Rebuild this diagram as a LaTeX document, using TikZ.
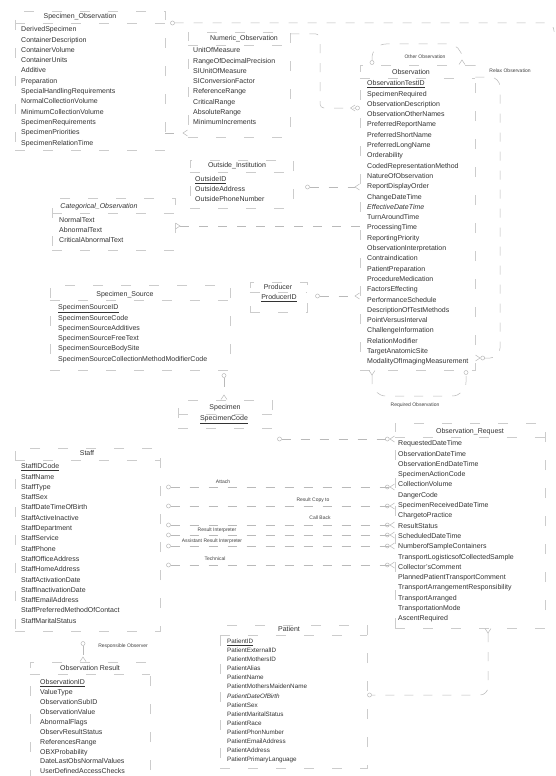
\documentclass[tikz,border=0pt]{standalone}
\usepackage{fontspec}
\setmainfont{Liberation Sans}
\usetikzlibrary{arrows.meta}

\begin{document}
\begin{tikzpicture}[
    x=1pt, y=-1pt,
    title/.style={font=\fontsize{7}{10.3}\selectfont, text=black!80, inner sep=0pt},
    attrs/.style={title, align=left, anchor=north west},
    pattrs/.style={attrs, font=\fontsize{6.3}{9.1}\selectfont},
    box/.style={draw=gray!40, dash pattern=on 10pt off 18pt, line width=0.5pt, inner sep=0pt},
    rel/.style={draw=gray!55, dash pattern=on 9pt off 10pt, line width=0.5pt},
    relname/.style={font=\fontsize{5}{6}\selectfont, text=black!75, inner sep=0pt},
    crow/.tip={Straight Barb[reversed, length=4.5pt, width=6pt]},
    ring/.tip={Circle[open, length=4.5pt, width=4.5pt]}
]
    \path [use as bounding box, fill=white] (0,0) rectangle (556,776);

    % entity boxes
    \node (specobs) [box, minimum width=150, minimum height=139] at (90,80.5) {};
    \node (num) [box, minimum width=102, minimum height=105] at (239,84.5) {};
    \node (obs) [box, minimum width=115, minimum height=305] at (417.5,217.5) {};
    \node (out) [box, minimum width=103, minimum height=48] at (241.5,184) {};
    \node (cat) [box, minimum width=123, minimum height=52] at (113.5,224) {};
    \node (ssrc) [box, minimum width=180, minimum height=85] at (140,327.5) {};
    \node (prod) [box, minimum width=57, minimum height=30] at (278.5,297) {};
    \node (spec) [box, minimum width=94, minimum height=28] at (225,414) {};
    \node (staff) [box, minimum width=145, minimum height=183] at (87.5,539.5) {};
    \node (oreq) [box, minimum width=150, minimum height=205] at (470,525.5) {};
    \node (ores) [box, minimum width=120, minimum height=128] at (90,726) {};
    \node (pat) [box, minimum width=147, minimum height=143] at (293.5,696.5) {};

    % title dividers
    \draw [box] (specobs.west |- 0,23) -- (specobs.east |- 0,23);
    \draw [box] (num.west |- 0,45) -- (num.east |- 0,45);
    \draw [box] (obs.west |- 0,78) -- (obs.east |- 0,78);
    \draw [box] (out.west |- 0,172) -- (out.east |- 0,172);
    \draw [box] (cat.west |- 0,213) -- (cat.east |- 0,213);
    \draw [box] (ssrc.west |- 0,300) -- (ssrc.east |- 0,300);
    \draw [box] (prod.west |- 0,292) -- (prod.east |- 0,292);
    \draw [box] (spec.west |- 0,414) -- (spec.east |- 0,414);
    \draw [box] (staff.west |- 0,460) -- (staff.east |- 0,460);
    \draw [box] (oreq.west |- 0,437) -- (oreq.east |- 0,437);
    \draw [box] (ores.west |- 0,674) -- (ores.east |- 0,674);
    \draw [box] (pat.west |- 0,635) -- (pat.east |- 0,635);

    % titles
    \node (specobsname) [title] at (80,17) {Specimen\_Observation};
    \node (numname) [title] at (244,39) {Numeric\_Observation};
    \node (obsname) [title] at (411,72) {Observation};
    \node (outname) [title] at (237,166) {Outside\_Institution};
    \node (catname) [title] at (99,207) {\itshape Categorical\_Observation};
    \node (ssrcname) [title] at (125,295) {Specimen\_Source};
    \node (prodname) [title] at (278,287) {Producer};
    \node (specname) [title] at (225,408) {Specimen};
    \node (staffname) [title] at (87,453) {Staff};
    \node (oreqname) [title] at (470,432) {Observation\_Request};
    \node (oresname) [title] at (90,668) {Observation Result};
    \node (patname) [title] at (289,629) {Patient};

    % attributes
    \node (specobsattr) [attrs] at (21,26.5) {DerivedSpecimen\\ContainerDescription\\ContainerVolume\\ContainerUnits\\Additive\\Preparation\\SpecialHandlingRequirements\\NormalCollectionVolume\\MinimumCollectionVolume\\SpecimenRequirements\\SpecimenPriorities\\SpecimenRelationTime};
    \node (numattr) [attrs] at (193,47.5) {UnitOfMeasure\\RangeOfDecimalPrecision\\SIUnitOfMeasure\\SIConversionFactor\\ReferenceRange\\CriticalRange\\AbsoluteRange\\MinimumIncrements};
    \node (obsattr) [attrs] at (367,80.5) {\underline{ObservationTestID}\\SpecimenRequired\\ObservationDescription\\ObservationOtherNames\\PreferredReportName\\PreferredShortName\\PreferredLongName\\Orderability\\CodedRepresentationMethod\\NatureOfObservation\\ReportDisplayOrder\\ChangeDateTime\\{\itshape EffectiveDateTime}\\TurnAroundTime\\ProcessingTime\\ReportingPriority\\ObservationInterpretation\\Contraindication\\PatientPreparation\\ProcedureMedication\\FactorsEffecting\\PerformanceSchedule\\DescriptionOfTestMethods\\PointVersusInterval\\ChallengeInformation\\RelationModifier\\TargetAnatomicSite\\ModalityOfImagingMeasurement};
    \node (outattr) [attrs, font=\fontsize{7}{10}\selectfont] at (195,176.5) {\underline{OutsideID}\\OutsideAddress\\OutsidePhoneNumber};
    \node (catattr) [attrs, font=\fontsize{7}{10}\selectfont] at (59,217.5) {NormalText\\AbnormalText\\CriticalAbnormalText};
    \node (ssrcattr) [attrs] at (58,304.5) {\underline{SpecimenSourceID}\\SpecimenSourceCode\\SpecimenSourceAdditives\\SpecimenSourceFreeText\\SpecimenSourceBodySite\\SpecimenSourceCollectionMethodModifierCode};
    \node (prodkey) [title] at (279,298) {\underline{ProducerID}};
    \node (speckey) [title] at (224,420) {\underline{SpecimenCode}};
    \node (staffattr) [attrs] at (21,463.5) {\underline{StaffIDCode}\\StaffName\\StaffType\\StaffSex\\StaffDateTimeOfBirth\\StaffActiveInactive\\StaffDepartment\\StaffService\\StaffPhone\\StaffOfficeAddress\\StaffHomeAddress\\StaffActivationDate\\StaffInactivationDate\\StaffEmailAddress\\StaffPreferredMethodOfContact\\StaffMaritalStatus};
    \node (oreqattr) [attrs] at (398,440.5) {RequestedDateTime\\ObservationDateTime\\ObservationEndDateTime\\SpecimenActionCode\\CollectionVolume\\DangerCode\\SpecimenReceivedDateTime\\ChargetoPractice\\ResultStatus\\ScheduledDateTime\\NumberofSampleContainers\\TransportLogisticsofCollectedSample\\Collector'sComment\\PlannedPatientTransportComment\\TransportArrangementResponsibility\\TransportArranged\\TransportationMode\\AscentRequired};
    \node (oresattr) [attrs, font=\fontsize{7}{9.9}\selectfont] at (40,679.5) {\underline{ObservationID}\\ValueType\\ObservationSubID\\ObservationValue\\AbnormalFlags\\ObservResultStatus\\ReferencesRange\\OBXProbability\\DateLastObsNormalValues\\UserDefinedAccessChecks};
    \node (patattr) [pattrs] at (227,638.7) {\underline{PatientID}\\PatientExternalID\\PatientMothersID\\PatientAlias\\PatientName\\PatientMothersMaidenName\\{\itshape PatientDateOfBirth}\\PatientSex\\PatientMaritalStatus\\PatientRace\\PatientPhonNumber\\PatientEmailAddress\\PatientAddress\\PatientPrimaryLanguage};

    % relationships
    \coordinate (topend) at (554,32);
    \draw [rel, ring-, shorten <=5pt, rounded corners=8pt] (specobs.east |- 0,23) -- (554,23) -- (topend);
    \draw [rel, -crow] (specobs.east |- 0,133) -- (num.west |- 0,133);
    \draw [rel, -{crow[] ring[]}, rounded corners=4pt] (num.east |- 0,34) -- (320,34) -- (320,108) -- (obs.west |- 0,108);
    \draw [rel, ring-crow, shorten <=12pt] (out.east |- 0,187) -- (obs.west |- 0,187);
    \draw [rel, crow-] (cat.east |- 0,226) -- (obs.west |- 0,226);
    \draw [rel, ring-crow, shorten <=8pt] (prod.east |- 0,296) -- (obs.west |- 0,296);
    \draw [rel, ring-crow, rounded corners=14pt] (obs.north -| 372,0) -- (372,44) -- (462,44) -- (obs.north -| 462,0);
    \draw [rel, -{ring[] crow[]}, rounded corners=10pt] (obs.east |- 0,77) -- (500,77) -- (500,358) -- (obs.east |- 0,358);
    \draw [rel, crow-ring, rounded corners=14pt] (obs.south -| 372,0) -- (372,396) -- (466,396) -- (obs.south -| 466,0);
    \draw [rel, ring-crow, shorten <=3pt] (ssrc.south -| 224,0) -- (spec.north -| 224,0);
    \draw [rel, ring-{ring[] crow[]}, shorten <=5pt] (spec.east |- 0,439) -- (oreq.west |- 0,439);
    \draw [rel, ring-{ring[] crow[]}, shorten <=6pt] (staff.east |- 0,487) -- (oreq.west |- 0,487);
    \draw [rel, ring-{ring[] crow[]}, shorten <=6pt] (staff.east |- 0,506) -- (oreq.west |- 0,506);
    \draw [rel, ring-{ring[] crow[]}, shorten <=6pt] (staff.east |- 0,525) -- (oreq.west |- 0,525);
    \draw [rel, ring-{ring[] crow[]}, shorten <=6pt] (staff.east |- 0,535) -- (oreq.west |- 0,535);
    \draw [rel, ring-{ring[] crow[]}, shorten <=6pt] (staff.east |- 0,546) -- (oreq.west |- 0,546);
    \draw [rel, ring-{ring[] crow[]}, shorten <=6pt] (staff.east |- 0,565) -- (oreq.west |- 0,565);
    \draw [rel, ring-crow, shorten <=10pt] (staff.south -| 83,0) -- (ores.north -| 83,0);
    \draw [rel, crow-ring, rounded corners=8pt] (oreq.south -| 488,0) -- (488,695) -- (pat.east |- 0,695);

    % relationship names
    \node (otherlbl) [relname] at (425,57) {Other Observation};
    \node (relaxlbl) [relname] at (510,71) {Relax Observation};
    \node (requiredlbl) [relname] at (415,405) {Required Observation};
    \node (attachlbl) [relname] at (223,482) {Attach};
    \node (copylbl) [relname] at (313,500) {Result Copy to};
    \node (callbacklbl) [relname] at (320,518) {Call Back};
    \node (interplbl) [relname] at (217,530) {Result Interpreter};
    \node (assistlbl) [relname] at (212,541) {Assistant Result Interpreter};
    \node (techlbl) [relname] at (215,559) {Technical};
    \node (resplbl) [relname] at (123,646) {Responsible Observer};
\end{tikzpicture}
\end{document}
